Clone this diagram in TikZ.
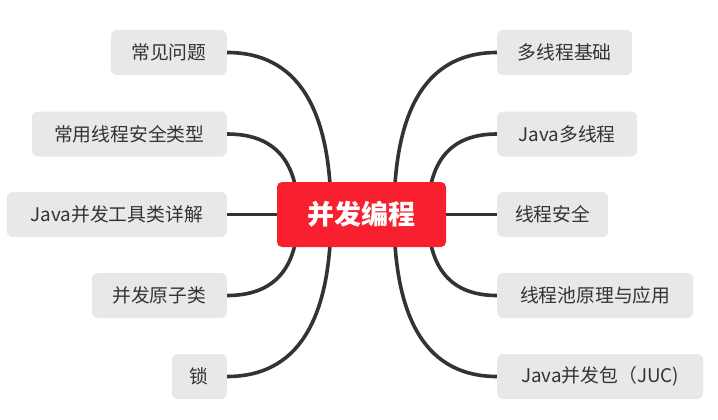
\documentclass[tikz,border=0pt]{standalone}
\usepackage{fontspec}
\setmainfont{Noto Sans CJK SC}
\usetikzlibrary{backgrounds}
\definecolor{rootred}{RGB}{248,32,46}
\definecolor{subgray}{RGB}{232,232,232}
\definecolor{txt}{RGB}{51,51,51}
\definecolor{linec}{RGB}{51,51,51}
\tikzset{
  sub/.style={fill=subgray, rounded corners=6pt, minimum height=45pt, inner sep=0pt,
    text=txt, font=\fontsize{18.8}{20}\selectfont},
  subL/.style={sub, anchor=east},
  subR/.style={sub, anchor=west},
  root/.style={fill=rootred, rounded corners=5pt, minimum width=169pt, minimum height=65pt,
    inner sep=0pt, text=white, font=\fontsize{27}{29}\selectfont\bfseries},
  conn/.style={draw=linec, line width=3.6pt, line cap=round}
}
\begin{document}
\begin{tikzpicture}[x=1pt,y=-1pt]
\useasboundingbox (0,0) rectangle (718,420);
\node[root] (root) at (361.5,214.5) {并发编程};
% left
\node[subL, minimum width=116pt] (l1) at (227,52.5) {常见问题};
\node[subL, minimum width=195pt] (l2) at (227,134) {常用线程安全类型};
\node[subL, minimum width=220pt] (l3) at (227,214.5) {Java并发工具类详解};
\node[subL, minimum width=135pt] (l4) at (227,295.5) {并发原子类};
\node[subL, minimum width=55pt] (l5) at (227,376.5) {锁};
% right
\node[subR, minimum width=135pt] (r1) at (497,52.5) {多线程基础};
\node[subR, minimum width=140pt] (r2) at (497,134) {Java多线程};
\node[subR, minimum width=111pt] (r3) at (497,214.5) {线程安全};
\node[subR, minimum width=196pt] (r4) at (497,295.5) {线程池原理与应用};
\node[subR, minimum width=206pt] (r5) at (497,376.5) {Java并发包（JUC)};
% origins inside root
\coordinate (so1) at (331,214.5);
\coordinate (si1) at (298,214.5);
\coordinate (so2) at (394,214.5);
\coordinate (si2) at (428,214.5);
\begin{scope}[on background layer]
\fill[white] (0,0) rectangle (718,420);
\draw[conn] (l1.east) .. controls +(69.3,0) and +(0,-108) .. (so1);
\draw[conn] (l2.east) .. controls +(47.3,0) and +(0,-54) .. (si1);
\draw[conn] (l3.east) -- (root.center);
\draw[conn] (l4.east) .. controls +(47.3,0) and +(0,54) .. (si1);
\draw[conn] (l5.east) .. controls +(69.3,0) and +(0,108) .. (so1);
\draw[conn] (r1.west) .. controls +(-68.7,0) and +(0,-108) .. (so2);
\draw[conn] (r2.west) .. controls +(-46,0) and +(0,-54) .. (si2);
\draw[conn] (r3.west) -- (root.center);
\draw[conn] (r4.west) .. controls +(-46,0) and +(0,54) .. (si2);
\draw[conn] (r5.west) .. controls +(-68.7,0) and +(0,108) .. (so2);
\end{scope}
\end{tikzpicture}
\end{document}
